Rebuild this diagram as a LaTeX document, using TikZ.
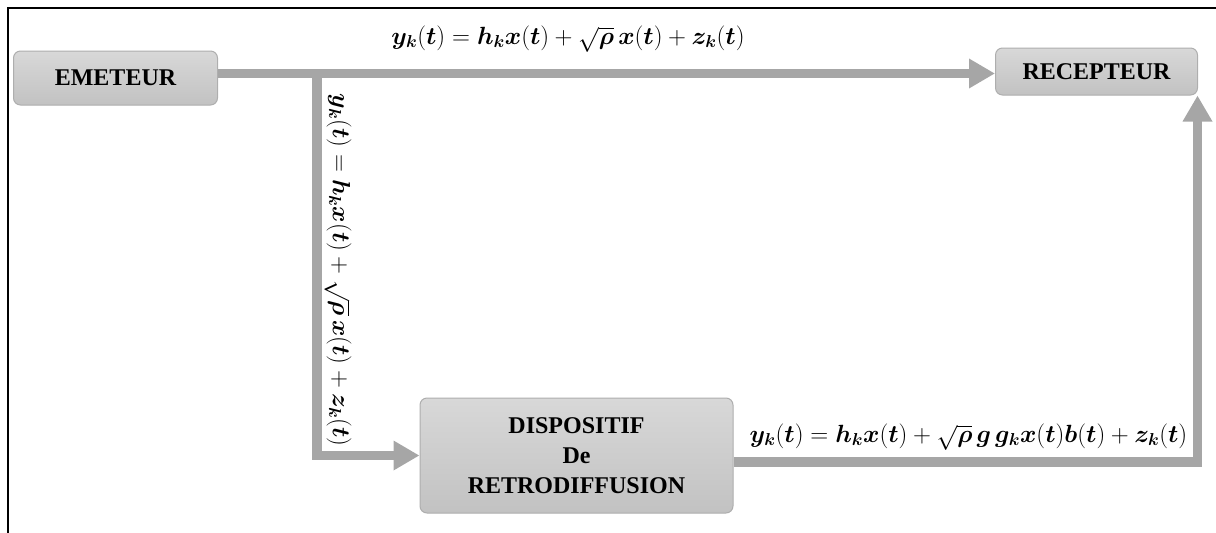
\documentclass[tikz,border=0pt]{standalone}
\usepackage{amsmath,bm}
\usepackage{fontspec}
\setmainfont{Liberation Serif}
\usetikzlibrary{arrows.meta,shadings}
\definecolor{boxfillA}{HTML}{D8D8D8}
\definecolor{boxfillB}{HTML}{C2C2C2}
\definecolor{boxline}{HTML}{AEAEAE}
\definecolor{flow}{HTML}{A6A6A6}
\begin{document}
\begin{tikzpicture}[x=1pt,y=-1pt,
  blk/.style={draw=boxline, line width=1pt, rounded corners=7pt,
    top color=boxfillA, bottom color=boxfillB,
    font=\fontsize{24}{30}\selectfont\bfseries, align=center, inner sep=0pt},
  flowline/.style={draw=flow, line width=9.5pt},
  tip/.style={-{Triangle[length=26pt,width=28pt]}},
  eq/.style={font=\fontsize{24}{28}\selectfont, inner sep=0pt}]
\useasboundingbox (0,0) rectangle (1216,533);
\draw[line width=2pt] (8,533) -- (8,8) -- (1216,8);

\node[blk, minimum width=204pt, minimum height=54pt] (em) at (115.5,78) {EMETEUR};
\node[blk, minimum width=202pt, minimum height=47pt] (rec) at (1096.5,71.5) {RECEPTEUR};
\node[blk, minimum width=313pt, minimum height=115pt] (disp) at (576.5,455.5) {DISPOSITIF\\De\\RETRODIFFUSION};

\coordinate (j) at (317,73.5);
\coordinate (b) at (1197.5,462);
\draw[flowline, tip] (em.east |- j) -- (rec.west |- j);
\draw[flowline, tip] (j) |- (disp.west);
\draw[flowline, tip] (disp.east |- b) -- (b) -- (b |- rec.south);

\node[eq] (l1) at (568,39) {$\bm y_{\bm k}(\bm t) = \bm h_{\bm k}\bm x(\bm t) + \sqrt{\bm\rho}\,\bm x(\bm t) + \bm z_{\bm k}(\bm t)$};
\node[eq, rotate=-90] (l2) at (338,270) {$\bm y_{\bm k}(\bm t) = \bm h_{\bm k}\bm x(\bm t) + \sqrt{\bm\rho}\,\bm x(\bm t) + \bm z_{\bm k}(\bm t)$};
\node[eq] (l3) at (968.5,437) {$\bm y_{\bm k}(\bm t) = \bm h_{\bm k}\bm x(\bm t) + \sqrt{\bm\rho}\,\bm g\,\bm g_{\bm k}\bm x(\bm t)\bm b(\bm t) + \bm z_{\bm k}(\bm t)$};
\end{tikzpicture}
\end{document}
